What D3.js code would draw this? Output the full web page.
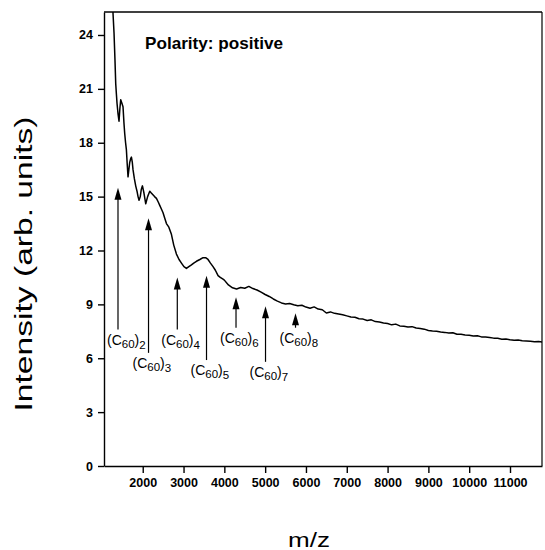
<!DOCTYPE html>
<html>
<head>
<meta charset="utf-8">
<script src="https://cdn.jsdelivr.net/npm/d3@7/dist/d3.min.js"></script>
<style>
  body { margin: 0; background: #fff; }
  svg { display: block; font-family: "Liberation Sans", Arial, Helvetica, sans-serif; }
  .axis path, .axis line { stroke: #000; stroke-width: 1.4; }
  .axis text { font-size: 12.5px; font-weight: bold; fill: #000; }
</style>
</head>
<body>
<svg id="chart" width="545" height="550"></svg>
<script>
// spectrum trace
var mz = [1255, 1272, 1297, 1320, 1338, 1355, 1370, 1395, 1419, 1440, 1461, 1490, 1517, 1540, 1559,
  1580, 1600, 1620, 1640, 1660, 1681, 1703, 1723, 1745, 1762, 1795, 1828, 1860, 1885, 1910, 1940,
  1965, 1993, 2030, 2074, 2120, 2172, 2210, 2250, 2290, 2336, 2380, 2420, 2460, 2498, 2540, 2581,
  2640, 2703, 2760, 2826, 2890, 2949, 3010, 3071, 3130, 3194, 3250, 3316, 3400, 3478, 3540, 3600,
  3660, 3723, 3780, 3846, 3900, 3968,
  4000, 4100, 4200, 4300, 4400, 4500, 4600, 4700, 4800, 4900, 5000, 5100, 5200, 5300, 5400, 5500,
  5600, 5700, 5800, 5900,
  6000, 6100, 6200, 6300, 6400, 6500, 6600, 6700, 6800, 6900, 7000, 7100, 7200, 7300, 7400, 7500,
  7600, 7700, 7800, 7900, 8000, 8100, 8200, 8300, 8400, 8500, 8600, 8700, 8800, 8900, 9000, 9100,
  9200, 9300, 9400, 9500, 9600, 9700, 9800, 9900, 10000, 10100, 10200, 10300, 10400, 10500, 10600,
  10700, 10800, 10900, 11000, 11100, 11200, 11300, 11400, 11500, 11600, 11700, 11800];
var intensity = [28, 25.2, 24.1, 22.6, 21.3, 20.7, 20.2, 19.6, 19.2, 19.9, 20.4, 20.2, 20.0, 19.1, 18.5,
  18.0, 17.6, 16.8, 16.1, 16.5, 16.9, 17.1, 17.2, 16.9, 16.5, 16.0, 15.6, 15.3, 15.0, 14.8, 15.0,
  15.4, 15.6, 15.2, 14.6, 15.0, 15.3, 15.2, 15.1, 15.0, 14.9, 14.7, 14.5, 14.3, 14.1, 13.8, 13.5,
  13.3, 12.9, 12.3, 11.8, 11.5, 11.3, 11.1, 11.0, 11.1, 11.2, 11.3, 11.4, 11.5, 11.6, 11.6, 11.5,
  11.3, 11.1, 10.9, 10.6, 10.5, 10.4,
  10.35, 10.08, 9.92, 9.86, 9.94, 9.90, 10.0, 9.88, 9.80, 9.68, 9.55, 9.44, 9.30, 9.18, 9.08, 9.02,
  9.05, 8.98, 8.92, 8.95,
  8.85, 8.78, 8.86, 8.74, 8.70, 8.52, 8.58, 8.50, 8.46, 8.42, 8.36, 8.30, 8.28, 8.20, 8.18, 8.10,
  8.14, 8.04, 8.02, 7.96, 7.93, 7.86, 7.90, 7.80, 7.78, 7.74, 7.76, 7.68, 7.66, 7.62, 7.55, 7.52,
  7.50, 7.46, 7.44, 7.40, 7.42, 7.34, 7.33, 7.30, 7.28, 7.24, 7.25, 7.19, 7.18, 7.16, 7.12,
  7.11, 7.06, 7.07, 7.03, 7.00, 7.01, 6.97, 6.96, 6.95, 6.92, 6.93, 6.90];

// cluster markers (C60)n
var clusterN = ["2", "3", "4", "5", "6", "7", "8"];
var arrowMz = [1394, 2142, 2847, 3563, 4286, 5009, 5744];
var arrowTop = [15.5, 13.8, 10.5, 10.6, 9.4, 8.9, 8.5];
var arrowBottom = [7.6, 6.3, 7.6, 5.9, 7.7, 5.8, 7.7];

var xTicks = [2000, 3000, 4000, 5000, 6000, 7000, 8000, 9000, 10000, 11000];
var yTicks = [0, 3, 6, 9, 12, 15, 18, 21, 24];

var svg = d3.select("#chart"),
  LEFT = 104, RIGHT = 542, TOP = 12, BOTTOM = 466;

var xScale = d3.scaleLinear().domain([1051, 11784]).range([LEFT, RIGHT]);
var yScale = d3.scaleLinear().domain([0, 25.28]).range([BOTTOM, TOP]);

svg.append("clipPath").attr("id", "plotclip")
  .append("rect")
  .attr("x", LEFT).attr("y", TOP)
  .attr("width", RIGHT - LEFT).attr("height", BOTTOM - TOP);

// frame top / right
svg.append("line")
  .attr("x1", LEFT).attr("x2", RIGHT).attr("y1", TOP).attr("y2", TOP)
  .attr("stroke", "#000").attr("stroke-width", 1.4);
svg.append("line")
  .attr("x1", RIGHT).attr("x2", RIGHT).attr("y1", TOP).attr("y2", BOTTOM)
  .attr("stroke", "#000").attr("stroke-width", 1.2);

svg.append("g")
  .attr("class", "axis")
  .attr("transform", "translate(0," + BOTTOM + ")")
  .call(d3.axisBottom(xScale).tickValues(xTicks).tickSize(7).tickPadding(5).tickSizeOuter(0)
    .tickFormat(d3.format("d")));

svg.append("g")
  .attr("class", "axis")
  .attr("transform", "translate(" + LEFT + ",0)")
  .call(d3.axisLeft(yScale).tickValues(yTicks).tickSize(6).tickPadding(5).tickSizeOuter(0));

var pts = mz.map(function (m, i) { return [m, intensity[i]]; });

svg.append("path")
  .datum(pts)
  .attr("clip-path", "url(#plotclip)")
  .attr("fill", "none")
  .attr("stroke", "#000")
  .attr("stroke-width", 1.5)
  .attr("stroke-linejoin", "round")
  .attr("d", d3.line()
    .x(function (d) { return xScale(d[0]); })
    .y(function (d) { return yScale(d[1]); }));

// arrows + labels
clusterN.forEach(function (n, i) {
  var x = xScale(arrowMz[i]),
    yt = yScale(arrowTop[i]),
    yb = yScale(arrowBottom[i]);

  svg.append("line")
    .attr("x1", x).attr("x2", x)
    .attr("y1", yt + 8).attr("y2", yb)
    .attr("stroke", "#000").attr("stroke-width", 1.2);

  svg.append("path")
    .attr("d", "M" + x + "," + yt + "L" + (x + 3.5) + "," + (yt + 12) + "L" + (x - 3.5) + "," + (yt + 12) + "Z")
    .attr("fill", "#000");

  var t = svg.append("text")
    .attr("x", x - (i === 0 ? 11 : 16))
    .attr("y", yb + 15)
    .style("font-size", "14px")
    .attr("fill", "#000");
  t.append("tspan").text("(C");
  t.append("tspan").attr("dy", 3).style("font-size", "11.5px").text("60");
  t.append("tspan").attr("dy", -3).text(")");
  t.append("tspan").attr("dy", 4).style("font-size", "11.5px").text(n);
});

svg.append("text")
  .attr("x", 145)
  .attr("y", 49)
  .style("font-size", "16.5px")
  .style("font-weight", "bold")
  .attr("textLength", 138)
  .attr("lengthAdjust", "spacingAndGlyphs")
  .text("Polarity: positive");

svg.append("text")
  .attr("transform", "translate(32,264) rotate(-90)")
  .style("text-anchor", "middle")
  .style("font-size", "23px")
  .attr("textLength", 295)
  .attr("lengthAdjust", "spacingAndGlyphs")
  .text("Intensity (arb. units)");

svg.append("text")
  .attr("x", 309)
  .attr("y", 547)
  .style("text-anchor", "middle")
  .style("font-size", "21px")
  .attr("textLength", 42)
  .attr("lengthAdjust", "spacingAndGlyphs")
  .text("m/z");
</script>
</body>
</html>
